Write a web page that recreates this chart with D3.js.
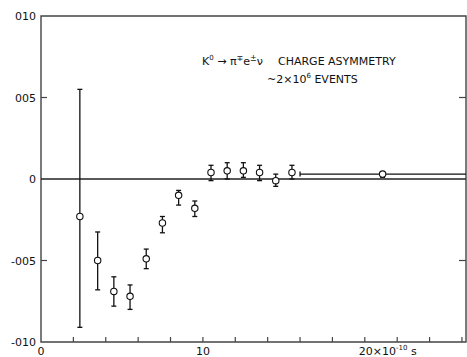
<!DOCTYPE html>
<html>
<head>
<meta charset="utf-8">
<script src="https://d3js.org/d3.v7.min.js"></script>
<style>
  body { margin: 0; background: #fff; }
  svg text { font-family: "DejaVu Sans", sans-serif; fill: #111; }
</style>
</head>
<body>
<div id="chart"></div>
<script>
// proper time, units of 1e-10 s
const times  = [2.4, 3.5, 4.5, 5.5, 6.5, 7.5, 8.5, 9.5, 10.5, 11.5, 12.5, 13.5, 14.5, 15.5, 21.1];
// charge asymmetry
const asym   = [-0.0023, -0.0050, -0.0069, -0.0072, -0.0049, -0.0027, -0.0010, -0.0018,
                0.0004, 0.0005, 0.0005, 0.0004, -0.0001, 0.0004, 0.0003];
const errTop = [0.0055, -0.00325, -0.0060, -0.0065, -0.0043, -0.0023, -0.0007, -0.00135,
                0.00084, 0.0010, 0.0010, 0.00084, 0.0003, 0.00084, 0.0004];
const errBot = [-0.0091, -0.0068, -0.0078, -0.0080, -0.0055, -0.0033, -0.0016, -0.0023,
                -0.0001, 0.0000, 0.0001, -0.0001, -0.00045, 0.0000, 0.0001];
// last bin is wide
const binLo  = [null, null, null, null, null, null, null, null, null, null, null, null, null, null, 16.0];
const binHi  = [null, null, null, null, null, null, null, null, null, null, null, null, null, null, 26.25];

const yTicks = [0.010, 0.005, 0, -0.005, -0.010];
const yTickLabels = ["010", "005", "0", "-005", "-010"];
const xTicks = d3.range(2, 27, 2);

const W = 467, H = 357;
const x = d3.scaleLinear().domain([0, 26.25]).range([41, 466]);
const y = d3.scaleLinear().domain([-0.010, 0.010]).range([342, 16]);

const svg = d3.select("#chart").append("svg")
    .attr("width", W).attr("height", H);

const frame = "#444";

// frame: left, bottom, top, right
svg.append("path")
    .attr("d", `M${x(0)},${y(0.010)} V${y(-0.010)} H${x(26.25)} V${y(0.010)} Z`)
    .attr("fill", "none").attr("stroke", frame).attr("stroke-width", 1.4);

// zero line
svg.append("line")
    .attr("x1", x(0)).attr("x2", x(26.25))
    .attr("y1", y(0)).attr("y2", y(0))
    .attr("stroke", "#222").attr("stroke-width", 1.3);

// y ticks on both sides
[0.005, -0.005].forEach(v => {
  svg.append("line").attr("x1", x(0)).attr("x2", x(0) + 6)
    .attr("y1", y(v)).attr("y2", y(v)).attr("stroke", frame).attr("stroke-width", 1.2);
  svg.append("line").attr("x1", x(26.25) - 7).attr("x2", x(26.25))
    .attr("y1", y(v)).attr("y2", y(v)).attr("stroke", frame).attr("stroke-width", 1.2);
});

// x ticks pointing up
svg.selectAll("line.xt").data(xTicks).join("line")
    .attr("class", "xt")
    .attr("x1", d => x(d)).attr("x2", d => x(d))
    .attr("y1", y(-0.010)).attr("y2", y(-0.010) - 5)
    .attr("stroke", frame).attr("stroke-width", 1.2);

// y tick labels
svg.selectAll("text.yl").data(yTicks).join("text")
    .attr("class", "yl")
    .attr("x", 36).attr("y", d => y(d) + 4)
    .attr("text-anchor", "end")
    .attr("font-size", 11)
    .text((d, i) => yTickLabels[i]);

// x tick labels
svg.append("text").attr("x", x(0)).attr("y", 355).attr("text-anchor", "middle")
    .attr("font-size", 11).text("0");
svg.append("text").attr("x", x(10)).attr("y", 355).attr("text-anchor", "middle")
    .attr("font-size", 11).text("10");
const xl = svg.append("text").attr("x", x(20) - 6).attr("y", 355).attr("font-size", 11);
xl.append("tspan").text("20×10");
xl.append("tspan").attr("dy", -5).attr("font-size", 7).text("-10");
xl.append("tspan").attr("dy", 5).text(" s");

// annotation
const t1 = svg.append("text").attr("x", 202).attr("y", 65).attr("font-size", 11);
t1.append("tspan").text("K");
t1.append("tspan").attr("dy", -5).attr("font-size", 7).text("0");
t1.append("tspan").attr("dy", 5).text(" → π");
t1.append("tspan").attr("dy", -4).attr("font-size", 8).text("∓");
t1.append("tspan").attr("dy", 4).text("e");
t1.append("tspan").attr("dy", -4).attr("font-size", 8).text("±");
t1.append("tspan").attr("dy", 4).text("ν");
svg.append("text").attr("x", 278).attr("y", 65).attr("font-size", 11).text("CHARGE ASYMMETRY");
const t2 = svg.append("text").attr("x", 267).attr("y", 83).attr("font-size", 11);
t2.append("tspan").text("~2×10");
t2.append("tspan").attr("dy", -5).attr("font-size", 7).text("6");
t2.append("tspan").attr("dy", 5).text(" EVENTS");

// data
const pts = times.map((t, i) => ({t, a: asym[i], hi: errTop[i], lo: errBot[i], bl: binLo[i], bh: binHi[i]}));
const g = svg.append("g").attr("stroke", "#111").attr("stroke-width", 1.3).attr("fill", "none");

g.selectAll("line.eb").data(pts).join("line")
    .attr("x1", d => x(d.t)).attr("x2", d => x(d.t))
    .attr("y1", d => y(d.hi)).attr("y2", d => y(d.lo));
g.selectAll("line.cap-top").data(pts).join("line")
    .attr("x1", d => x(d.t) - 2.5).attr("x2", d => x(d.t) + 2.5)
    .attr("y1", d => y(d.hi)).attr("y2", d => y(d.hi));
g.selectAll("line.cap-bot").data(pts).join("line")
    .attr("x1", d => x(d.t) - 2.5).attr("x2", d => x(d.t) + 2.5)
    .attr("y1", d => y(d.lo)).attr("y2", d => y(d.lo));

// horizontal bin width bars
const wide = pts.filter(d => d.bl !== null);
g.selectAll("line.hb").data(wide).join("line")
    .attr("x1", d => x(d.bl)).attr("x2", d => x(d.bh))
    .attr("y1", d => y(d.a)).attr("y2", d => y(d.a));
g.selectAll("line.hbcap").data(wide).join("line")
    .attr("x1", d => x(d.bl)).attr("x2", d => x(d.bl))
    .attr("y1", d => y(d.a) - 2.5).attr("y2", d => y(d.a) + 2.5);

g.selectAll("circle").data(pts).join("circle")
    .attr("cx", d => x(d.t)).attr("cy", d => y(d.a)).attr("r", 3.2)
    .attr("fill", "#fff").attr("stroke-width", 1.1);
</script>
</body>
</html>
